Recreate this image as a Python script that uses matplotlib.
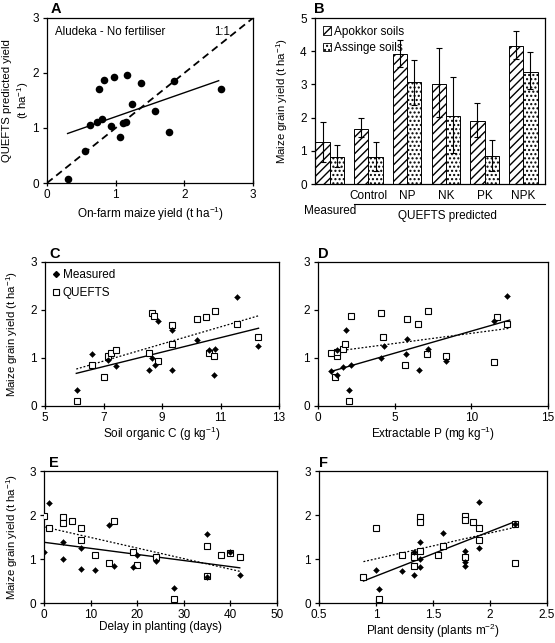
import matplotlib
matplotlib.use("Agg")
import matplotlib.pyplot as plt
from matplotlib.patches import Patch
from matplotlib.lines import Line2D
import matplotlib.transforms as mtransforms

plt.rcParams['font.family'] = ['Liberation Sans', 'DejaVu Sans']
plt.rcParams['font.size'] = 8.5
plt.rcParams['mathtext.fontset'] = 'custom'
plt.rcParams['mathtext.rm'] = 'Liberation Sans'
plt.rcParams['mathtext.it'] = 'Liberation Sans:italic'
plt.rcParams['mathtext.bf'] = 'Liberation Sans:bold'
plt.rcParams['hatch.linewidth'] = 1.0

# ---------------- data ----------------
# Panel A
A_meas = [0.30, 0.56, 0.63, 0.73, 0.75, 0.80, 0.83, 0.93, 0.98, 1.07, 1.10, 1.15,
          1.17, 1.24, 1.37, 1.57, 1.77, 1.85, 2.53]
A_pred = [0.07, 0.59, 1.05, 1.11, 1.70, 1.17, 1.88, 1.04, 1.93, 0.84, 1.09, 1.11,
          1.97, 1.43, 1.82, 1.30, 0.92, 1.85, 1.70]
A_fit_x = [0.30, 2.50]
A_fit_y = [0.90, 1.86]

# Panel B
B_cats = ["Measured", "Control", "NP", "NK", "PK", "NPK"]
B_apokkor = [1.27, 1.66, 3.92, 3.01, 1.89, 4.15]
B_apokkor_lo = [0.66, 1.41, 3.51, 2.01, 1.42, 3.77]
B_apokkor_hi = [1.87, 1.99, 4.35, 4.10, 2.44, 4.60]
B_assinge = [0.80, 0.80, 3.07, 2.04, 0.83, 3.36]
B_assinge_lo = [0.50, 0.40, 2.37, 0.93, 0.40, 2.86]
B_assinge_hi = [1.18, 1.26, 3.75, 3.21, 1.32, 3.98]

# Panel C (soil organic C)
C_meas_x = [6.10, 6.62, 7.16, 7.43, 8.56, 8.66, 8.75, 8.85, 9.34, 9.34, 10.18, 10.59,
            10.82, 10.79, 11.55, 12.27]
C_meas_y = [0.34, 1.08, 0.95, 0.83, 0.75, 1.01, 0.85, 1.78, 1.59, 0.76, 1.38, 1.17,
            1.19, 0.65, 2.28, 1.26]
C_pred_x = [6.10, 6.62, 7.00, 7.16, 7.27, 7.43, 8.56, 8.66, 8.74, 8.85, 9.34, 9.34,
            10.18, 10.52, 10.59, 10.77, 10.82, 11.55, 12.27]
C_pred_y = [0.10, 0.86, 0.60, 1.04, 1.10, 1.17, 1.11, 1.93, 1.88, 0.93, 1.69, 1.30,
            1.82, 1.85, 1.11, 1.04, 1.98, 1.71, 1.43]
C_fit_meas_x = [6.07, 12.30]
C_fit_meas_y = [0.68, 1.62]
C_fit_pred_x = [6.07, 12.30]
C_fit_pred_y = [0.77, 1.88]

# Panel D (extractable P)
D_meas_x = [0.85, 1.24, 1.24, 1.64, 1.83, 2.03, 2.16, 4.08, 4.28, 5.72, 5.83, 6.57,
            7.20, 8.36, 11.50, 12.34]
D_meas_y = [0.73, 0.65, 1.17, 0.82, 1.58, 0.33, 0.85, 1.00, 1.26, 1.08, 1.39, 0.76,
            1.19, 0.94, 1.77, 2.29]
D_pred_x = [0.83, 1.09, 1.24, 1.24, 1.64, 1.79, 2.03, 2.16, 4.08, 4.26, 5.70, 5.79,
            6.53, 7.12, 7.18, 8.34, 11.50, 11.68, 12.34]
D_pred_y = [1.11, 0.60, 1.05, 1.12, 1.18, 1.30, 0.10, 1.87, 1.94, 1.43, 0.85, 1.82,
            1.70, 1.08, 1.97, 1.05, 0.92, 1.86, 1.71]
D_fit_meas_x = [0.85, 12.50]
D_fit_meas_y = [0.72, 1.79]
D_fit_pred_x = [0.90, 12.50]
D_fit_pred_y = [1.13, 1.62]

# Panel E (delay in planting)
E_meas_x = [0, 1, 4, 4, 8, 8, 11, 14, 15, 19, 20, 24, 28, 35, 35, 40, 42]
E_meas_y = [1.17, 2.27, 1.38, 1.00, 1.25, 0.77, 0.74, 1.77, 0.84, 0.81, 1.08, 0.95,
            0.33, 1.57, 0.58, 1.17, 0.64]
E_pred_x = [0, 1, 4, 4, 6, 8, 8, 11, 14, 15, 19, 20, 24, 28, 35, 35, 38, 40, 42]
E_pred_y = [1.97, 1.70, 1.95, 1.82, 1.86, 1.70, 1.44, 1.10, 0.92, 1.87, 1.17, 0.86,
            1.05, 0.10, 1.29, 0.61, 1.09, 1.13, 1.05]
E_fit_meas_x = [0, 42]
E_fit_meas_y = [1.38, 0.80]
E_fit_pred_x = [0, 42]
E_fit_pred_y = [1.73, 0.72]

# Panel F (plant density)
F_meas_x = [1.00, 1.03, 1.23, 1.33, 1.33, 1.39, 1.39, 1.39, 1.59, 1.78, 1.78, 1.78,
            1.90, 1.90, 2.22]
F_meas_y = [0.76, 0.32, 0.73, 1.17, 0.63, 1.38, 0.99, 0.81, 1.58, 1.19, 0.94, 0.85,
            2.30, 1.26, 1.80]
F_pred_x = [0.89, 1.00, 1.03, 1.23, 1.33, 1.33, 1.33, 1.39, 1.39, 1.39, 1.54, 1.59,
            1.78, 1.78, 1.78, 1.85, 1.90, 1.90, 2.22, 2.22]
F_pred_y = [0.60, 1.70, 0.08, 1.10, 1.10, 1.04, 0.84, 1.95, 1.83, 1.18, 1.08, 1.29,
            1.97, 1.89, 1.04, 1.85, 1.70, 1.44, 1.79, 0.92]
F_fit_meas_x = [0.89, 2.22]
F_fit_meas_y = [0.50, 1.85]
F_fit_pred_x = [0.89, 2.22]
F_fit_pred_y = [0.94, 1.72]

# ---------------- figure ----------------
W, H = 555, 643
fig = plt.figure(figsize=(W / 100, H / 100), dpi=100)


def add_ax(l, t, r, b):
    return fig.add_axes([l / W, 1 - b / H, (r - l) / W, (b - t) / H])


def style(ax):
    for s in ax.spines.values():
        s.set_linewidth(0.9)
        s.set_color('black')
    ax.tick_params(axis='x', direction='inout', length=5, width=0.9, pad=2,
                   labelsize=8.5)
    ax.tick_params(axis='y', direction='out', length=3, width=0.9, pad=3,
                   labelsize=8.5)


def letter(ax, s, dx=0.01):
    ax.text(dx, 1.01, s, transform=ax.transAxes, fontsize=10.5,
            fontweight='bold', ha='left', va='bottom')


YL = "Maize grain yield (t ha$^{-1}$)"
YLS = 8.2

# Panel A
axA = add_ax(47, 18, 253, 183)
style(axA)
axA.plot([0, 3], [0, 3], color='black', lw=1.3, ls=(0, (4, 2.5)))
axA.plot(A_fit_x, A_fit_y, color='black', lw=1.0)
axA.scatter(A_meas, A_pred, s=30, color='black', zorder=3, linewidths=0)
axA.set_xlim(0, 3)
axA.set_ylim(0, 3)
axA.set_xticks([0, 1, 2, 3])
axA.set_yticks([0, 1, 2, 3])
axA.text(0.12, 2.75, "Aludeka - No fertiliser", ha='left', va='center', fontsize=8.3)
axA.text(2.55, 2.75, "1:1", ha='center', va='center', fontsize=8.3)
axA.set_xlabel("On-farm maize yield (t ha$^{-1}$)")
axA.xaxis.set_label_coords(0.5, -0.135)
axA.set_ylabel("QUEFTS predicted yield\n(t ha$^{-1}$)", linespacing=1.25, fontsize=YLS)
axA.yaxis.set_label_coords(-0.08, 0.5)
letter(axA, "A", 0.02)

# Panel B
axB = add_ax(315, 18, 545, 184)
style(axB)
bw = 0.37
xs = list(range(len(B_cats)))
xa = [x - bw / 2 for x in xs]
xb = [x + bw / 2 for x in xs]
axB.bar(xa, B_apokkor, width=bw, color='white', edgecolor='black', hatch='////',
        linewidth=0.7, label='Apokkor soils')
axB.bar(xb, B_assinge, width=bw, color='white', edgecolor='black', hatch='....',
        linewidth=0.7, label='Assinge soils')
axB.errorbar(xa, B_apokkor,
             yerr=[[v - l for v, l in zip(B_apokkor, B_apokkor_lo)],
                   [h - v for v, h in zip(B_apokkor, B_apokkor_hi)]],
             fmt='none', ecolor='black', elinewidth=0.8, capsize=2.5, capthick=0.8)
axB.errorbar(xb, B_assinge,
             yerr=[[v - l for v, l in zip(B_assinge, B_assinge_lo)],
                   [h - v for v, h in zip(B_assinge, B_assinge_hi)]],
             fmt='none', ecolor='black', elinewidth=0.8, capsize=2.5, capthick=0.8)
axB.set_xlim(-0.38, 5.56)
axB.set_ylim(0, 5)
axB.set_yticks([0, 1, 2, 3, 4, 5])
axB.set_xticks([])
axB.set_ylabel(YL, fontsize=YLS)
axB.yaxis.set_label_coords(-0.11, 0.5)
trB = mtransforms.blended_transform_factory(axB.transData, axB.transAxes)
for i, c in enumerate(B_cats):
    if i == 0:
        axB.text(i, -0.165, c, transform=trB, ha='center', va='center')
    else:
        axB.text(i, -0.075, c, transform=trB, ha='center', va='center')
axB.plot([1 - bw, 5.56], [-0.12, -0.12], transform=trB, color='black', lw=0.8,
         clip_on=False)
axB.text(3.05, -0.19, "QUEFTS predicted", transform=trB, ha='center', va='center')
legB = axB.legend(handles=[Patch(facecolor='white', edgecolor='black', hatch='////',
                                 linewidth=0.6, label='Apokkor soils'),
                           Patch(facecolor='white', edgecolor='black', hatch='....',
                                 linewidth=0.6, label='Assinge soils')],
                  loc='upper left', frameon=False, handlelength=0.7, handleheight=0.7,
                  handletextpad=0.3, labelspacing=0.35, borderaxespad=0.25,
                  fontsize=8.5)
letter(axB, "B", -0.005)


def scatter_panel(ax, mx, my, px, py, fmx, fmy, fpx, fpy):
    style(ax)
    ax.plot(fmx, fmy, color='black', lw=1.0, zorder=2)
    ax.plot(fpx, fpy, color='black', lw=0.9, ls=(0, (1.5, 1.5)), zorder=2)
    ax.plot(px, py, ls='none', marker='s', ms=4.2, mfc='white', mec='black',
            mew=0.8, zorder=3)
    ax.plot(mx, my, ls='none', marker='D', ms=3.0, mfc='black', mec='black',
            mew=0.3, zorder=4)


# Panel C
axC = add_ax(45, 262, 279, 406)
scatter_panel(axC, C_meas_x, C_meas_y, C_pred_x, C_pred_y,
              C_fit_meas_x, C_fit_meas_y, C_fit_pred_x, C_fit_pred_y)
axC.set_xlim(5, 13)
axC.set_ylim(0, 3)
axC.set_xticks([5, 7, 9, 11, 13])
axC.set_yticks([0, 1, 2, 3])
axC.set_xlabel("Soil organic C (g kg$^{-1}$)")
axC.xaxis.set_label_coords(0.5, -0.13)
axC.set_ylabel(YL, fontsize=YLS)
axC.yaxis.set_label_coords(-0.108, 0.5)
axC.legend(handles=[Line2D([], [], ls='none', marker='D', ms=3.0, mfc='black',
                           mec='black', label='Measured'),
                    Line2D([], [], ls='none', marker='s', ms=4.2, mfc='white',
                           mec='black', mew=0.8, label='QUEFTS')],
           loc='upper left', frameon=False, handlelength=0.6, handletextpad=0.3,
           labelspacing=0.5, borderaxespad=0.3, borderpad=0.3, fontsize=8.5)
letter(axC, "C", 0.02)

# Panel D
axD = add_ax(318, 262, 548, 406)
scatter_panel(axD, D_meas_x, D_meas_y, D_pred_x, D_pred_y,
              D_fit_meas_x, D_fit_meas_y, D_fit_pred_x, D_fit_pred_y)
axD.set_xlim(0, 15)
axD.set_ylim(0, 3)
axD.set_xticks([0, 5, 10, 15])
axD.set_yticks([0, 1, 2, 3])
axD.set_xlabel("Extractable P (mg kg$^{-1}$)")
axD.xaxis.set_label_coords(0.5, -0.13)
letter(axD, "D", 0.0)

# Panel E
axE = add_ax(44, 471, 277, 603)
scatter_panel(axE, E_meas_x, E_meas_y, E_pred_x, E_pred_y,
              E_fit_meas_x, E_fit_meas_y, E_fit_pred_x, E_fit_pred_y)
axE.set_xlim(0, 50)
axE.set_ylim(0, 3)
axE.set_xticks([0, 10, 20, 30, 40, 50])
axE.set_yticks([0, 1, 2, 3])
axE.set_xlabel("Delay in planting (days)")
axE.xaxis.set_label_coords(0.5, -0.14)
axE.set_ylabel(YL, fontsize=YLS)
axE.yaxis.set_label_coords(-0.105, 0.5)
letter(axE, "E", 0.02)

# Panel F
axF = add_ax(319, 471, 547, 603)
scatter_panel(axF, F_meas_x, F_meas_y, F_pred_x, F_pred_y,
              F_fit_meas_x, F_fit_meas_y, F_fit_pred_x, F_fit_pred_y)
axF.set_xlim(0.5, 2.5)
axF.set_ylim(0, 3)
axF.set_xticks([0.5, 1, 1.5, 2, 2.5])
axF.set_xticklabels(["0.5", "1", "1.5", "2", "2.5"])
axF.set_yticks([0, 1, 2, 3])
axF.set_xlabel("Plant density (plants m$^{-2}$)")
axF.xaxis.set_label_coords(0.5, -0.14)
letter(axF, "F", 0.0)

fig.savefig("out.png", dpi=100)
